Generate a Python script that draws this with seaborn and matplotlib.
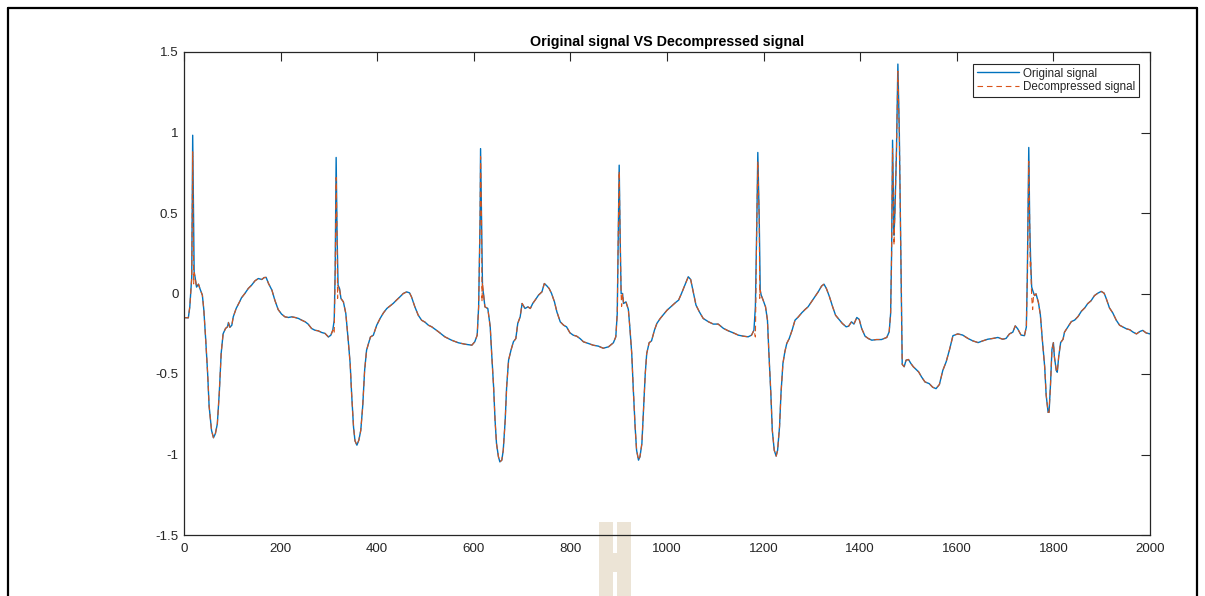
import matplotlib
matplotlib.use("Agg")
import matplotlib.pyplot as plt
from matplotlib.patches import Rectangle
from matplotlib.lines import Line2D
import seaborn as sns

# ECG trace (sample index, amplitude) for the original recording
orig_x = [0, 9, 12, 16, 18, 20, 21, 23, 26, 30, 33, 38, 41, 45, 49, 52, 57, 61, 65, 69,
          73, 77, 81, 86, 90, 92, 95, 99, 102, 108, 115, 119, 126, 133, 140, 147, 154, 161,
          166, 170, 175, 182, 188, 195, 202, 209, 216, 223, 230, 237, 244, 251, 257, 264,
          271, 278, 285, 292, 299, 304, 308, 311, 313, 315, 317, 319, 322, 325, 330, 335,
          340, 344, 347, 351, 354, 358, 362, 366, 370, 374, 378, 382, 386, 392, 399, 406,
          413, 420, 426, 433, 440, 447, 454, 461, 467, 471, 478, 485, 492, 499, 506, 513,
          527, 540, 554, 568, 582, 596, 602, 607, 610, 613, 614, 616, 618, 620, 623, 629,
          634, 637, 641, 644, 647, 651, 654, 658, 661, 665, 668, 672, 677, 682, 687, 691,
          696, 700, 706, 712, 717, 722, 727, 734, 741, 746, 751, 756, 761, 767, 772, 779,
          786, 792, 799, 806, 813, 820, 827, 837, 847, 858, 868, 879, 889, 894, 897, 899,
          901, 903, 905, 908, 910, 915, 920, 923, 927, 930, 934, 937, 941, 944, 948, 951,
          955, 958, 963, 968, 974, 979, 986, 993, 1000, 1007, 1017, 1024, 1030, 1037, 1044,
          1049, 1055, 1060, 1067, 1075, 1086, 1096, 1106, 1117, 1127, 1137, 1148, 1158,
          1168, 1175, 1180, 1183, 1186, 1188, 1191, 1193, 1195, 1199, 1204, 1208, 1211,
          1215, 1218, 1222, 1226, 1229, 1233, 1236, 1240, 1244, 1248, 1253, 1259, 1265,
          1272, 1279, 1286, 1292, 1299, 1306, 1313, 1320, 1325, 1330, 1336, 1343, 1349,
          1356, 1363, 1371, 1376, 1382, 1387, 1393, 1398, 1403, 1410, 1417, 1424, 1434,
          1444, 1455, 1460, 1463, 1465, 1467, 1470, 1472, 1475, 1478, 1481, 1484, 1487,
          1491, 1495, 1500, 1505, 1510, 1516, 1521, 1527, 1534, 1543, 1550, 1557, 1564,
          1571, 1578, 1585, 1592, 1602, 1612, 1623, 1633, 1644, 1654, 1664, 1675, 1685,
          1695, 1702, 1709, 1716, 1721, 1726, 1733, 1740, 1744, 1746, 1749, 1751, 1753,
          1755, 1757, 1761, 1764, 1769, 1773, 1777, 1782, 1785, 1789, 1791, 1794, 1797,
          1800, 1802, 1806, 1808, 1811, 1815, 1820, 1823, 1830, 1837, 1844, 1851, 1858,
          1865, 1871, 1878, 1885, 1892, 1899, 1905, 1909, 1916, 1923, 1930, 1937, 1944,
          1951, 1958, 1965, 1972, 1979, 1985, 1992, 2000]
orig_y = [-0.150, -0.151, -0.083, 0.100, 0.983, 0.455, 0.135, 0.100, 0.040, 0.058, 0.030,
          -0.010, -0.100, -0.290, -0.500, -0.700, -0.850, -0.896, -0.870, -0.810, -0.620,
          -0.370, -0.250, -0.217, -0.207, -0.180, -0.210, -0.197, -0.145, -0.093, -0.052,
          -0.027, 0.000, 0.031, 0.052, 0.079, 0.093, 0.087, 0.099, 0.100, 0.062, 0.021,
          -0.041, -0.100, -0.128, -0.145, -0.149, -0.145, -0.149, -0.155, -0.166, -0.176,
          -0.190, -0.217, -0.228, -0.232, -0.242, -0.248, -0.270, -0.259, -0.228, -0.166,
          0.145, 0.845, 0.350, 0.052, 0.031, -0.031, -0.052, -0.124, -0.290, -0.435,
          -0.620, -0.830, -0.915, -0.942, -0.911, -0.850, -0.700, -0.476, -0.352, -0.310,
          -0.270, -0.259, -0.197, -0.155, -0.120, -0.093, -0.079, -0.062, -0.041, -0.021,
          0.000, 0.010, 0.004, -0.021, -0.083, -0.135, -0.166, -0.178, -0.197, -0.207,
          -0.238, -0.269, -0.290, -0.306, -0.315, -0.321, -0.300, -0.259, -0.083, 0.455,
          0.900, 0.455, 0.041, 0.000, -0.083, -0.093, -0.207, -0.373, -0.580, -0.787,
          -0.932, -1.014, -1.046, -1.035, -0.973, -0.787, -0.580, -0.414, -0.352, -0.300,
          -0.280, -0.186, -0.145, -0.062, -0.093, -0.083, -0.093, -0.062, -0.041, -0.010,
          0.010, 0.062, 0.048, 0.031, 0.000, -0.052, -0.114, -0.176, -0.197, -0.207,
          -0.244, -0.259, -0.265, -0.280, -0.300, -0.310, -0.321, -0.327, -0.340, -0.331,
          -0.306, -0.269, -0.124, 0.352, 0.797, 0.352, 0.000, 0.000, -0.062, -0.052,
          -0.099, -0.207, -0.373, -0.580, -0.828, -0.973, -1.035, -1.014, -0.932, -0.745,
          -0.497, -0.373, -0.306, -0.294, -0.228, -0.186, -0.155, -0.130, -0.104, -0.085,
          -0.058, -0.041, 0.000, 0.052, 0.104, 0.087, 0.000, -0.072, -0.114, -0.155,
          -0.176, -0.190, -0.190, -0.217, -0.232, -0.244, -0.259, -0.265, -0.269, -0.259,
          -0.228, -0.083, 0.455, 0.876, 0.455, 0.020, -0.010, -0.041, -0.083, -0.166,
          -0.373, -0.621, -0.849, -0.973, -1.010, -0.973, -0.828, -0.621, -0.435, -0.362,
          -0.310, -0.280, -0.228, -0.166, -0.145, -0.120, -0.099, -0.083, -0.052, -0.021,
          0.010, 0.046, 0.058, 0.031, -0.017, -0.083, -0.135, -0.161, -0.186, -0.207,
          -0.203, -0.176, -0.190, -0.149, -0.161, -0.217, -0.265, -0.280, -0.290, -0.286,
          -0.286, -0.273, -0.238, -0.124, 0.248, 0.952, 0.362, 0.518, 0.870, 1.425, 1.000,
          0.300, -0.440, -0.455, -0.414, -0.410, -0.435, -0.455, -0.472, -0.487, -0.518,
          -0.549, -0.560, -0.582, -0.591, -0.565, -0.478, -0.424, -0.348, -0.262, -0.251,
          -0.258, -0.279, -0.294, -0.305, -0.294, -0.284, -0.279, -0.273, -0.284, -0.279,
          -0.251, -0.240, -0.201, -0.219, -0.258, -0.262, -0.208, 0.106, 0.907, 0.430,
          0.193, 0.041, 0.020, -0.013, -0.002, -0.056, -0.132, -0.284, -0.457, -0.630,
          -0.738, -0.738, -0.565, -0.348, -0.305, -0.392, -0.478, -0.489, -0.392, -0.305,
          -0.284, -0.240, -0.208, -0.175, -0.165, -0.143, -0.110, -0.089, -0.063, -0.045,
          -0.013, 0.002, 0.013, 0.002, -0.028, -0.089, -0.121, -0.165, -0.197, -0.208,
          -0.219, -0.225, -0.240, -0.251, -0.236, -0.229, -0.245, -0.251]

# Samples where the decompressed signal departs from the original (around the QRS peaks)
decomp_edit_x = [18, 19, 20, 21, 311, 315, 318, 319, 614, 617, 618, 901, 906,
                 1183, 1188, 1192, 1467, 1470, 1478, 1749, 1752, 1755, 1757, 1759]
decomp_edit_y = [0.880, 0.450, 0.060, 0.130, -0.250, 0.720, -0.030, 0.050, 0.850, -0.050,
                 0.070, 0.760, -0.080, -0.270, 0.820, -0.030, 0.900, 0.300, 1.380, 0.820,
                 0.160, -0.020, -0.100, 0.000]

x_ticks = [0, 200, 400, 600, 800, 1000, 1200, 1400, 1600, 1800, 2000]
y_ticks = [-1.5, -1, -0.5, 0, 0.5, 1, 1.5]
y_tick_labels = ["-1.5", "-1", "-0.5", "0", "0.5", "1", "1.5"]

decomp = dict(zip(orig_x, orig_y))
decomp.update(dict(zip(decomp_edit_x, decomp_edit_y)))
decomp_x = sorted(decomp)
decomp_y = [decomp[k] for k in decomp_x]

sns.set_style("white")
plt.rcParams["font.family"] = ["Liberation Sans", "DejaVu Sans"]

W, H = 1205, 596
fig = plt.figure(figsize=(W / 100, H / 100), dpi=100)
fig.patch.set_facecolor("white")
ax = fig.add_axes([184 / W, 1 - 535 / H, (1150 - 184) / W, (535 - 52) / H])

blue = "#0072BD"
orange = "#D95319"
sns.lineplot(x=orig_x, y=orig_y, ax=ax, color=blue, linewidth=1.0,
             label="Original signal", estimator=None, sort=False)
sns.lineplot(x=decomp_x, y=decomp_y, ax=ax, color=orange, linewidth=0.8,
             label="Decompressed signal", estimator=None, sort=False)
ax.lines[1].set_dashes((5, 3.5))

ax.set_xlim(0, 2000)
ax.set_ylim(-1.5, 1.5)
ax.set_xticks(x_ticks)
ax.set_yticks(y_ticks)
ax.set_yticklabels(y_tick_labels)
ax.tick_params(direction="in", length=6.5, width=0.8, colors="#262626",
               labelsize=9.6, top=True, right=True, pad=4)
ax.tick_params(axis="x", pad=5.5)
for s in ax.spines.values():
    s.set_visible(True)
    s.set_color("#262626")
    s.set_linewidth(0.9)
ax.grid(False)

ax.set_title("Original signal VS Decompressed signal", fontsize=10.3,
             fontweight="bold", color="black", pad=4)

leg = ax.legend(loc="upper right", bbox_to_anchor=(1139 / W, 1 - 64 / H),
                bbox_transform=fig.transFigure, fontsize=8.4, frameon=True,
                fancybox=False, edgecolor="#262626", framealpha=1,
                handlelength=3.6, handletextpad=0.4, borderpad=0.3,
                labelspacing=0.15, borderaxespad=0)
leg.get_frame().set_linewidth(0.8)

# beige marker at the bottom of the page
beige = "#ECE4D6"
for (x0, y0, x1, y1) in [(599, 522, 613, 596), (617, 522, 631, 596), (613, 553, 617, 572)]:
    ax.add_patch(Rectangle((x0 / W, 1 - y1 / H), (x1 - x0) / W, (y1 - y0) / H,
                           transform=fig.transFigure, facecolor=beige,
                           edgecolor="none", clip_on=False, zorder=0.5))

# page frame
frame_kw = dict(transform=fig.transFigure, color="black", linewidth=1.6)
fig.add_artist(Line2D([8 / W, 8 / W], [0, 1 - 8 / H], **frame_kw))
fig.add_artist(Line2D([8 / W, 1197 / W], [1 - 8 / H, 1 - 8 / H], **frame_kw))
fig.add_artist(Line2D([1197 / W, 1197 / W], [0, 1 - 8 / H], **frame_kw))

fig.savefig("out.png", dpi=100)
